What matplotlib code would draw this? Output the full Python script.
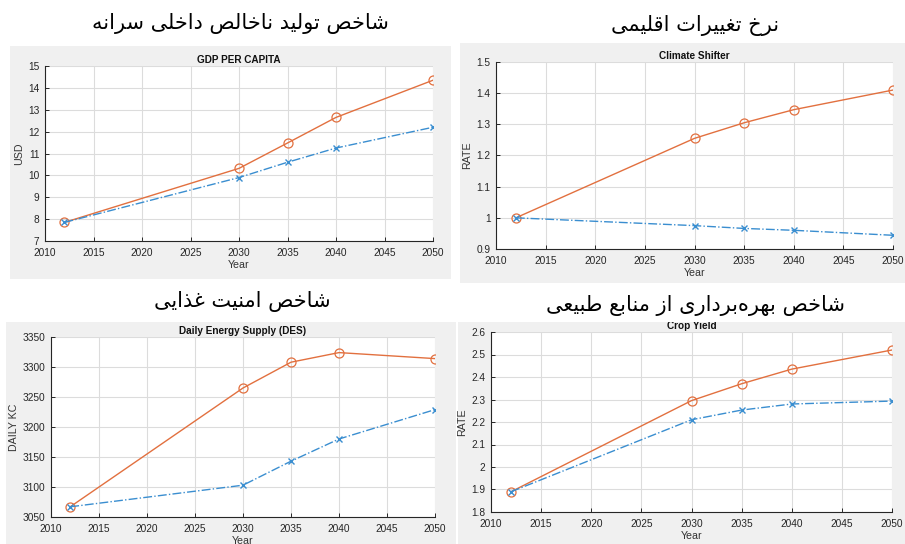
import matplotlib
matplotlib.use("Agg")
import matplotlib.pyplot as plt
from matplotlib.patches import Rectangle

# projection years and scenario values
years = [2012, 2030, 2035, 2040, 2050]

gdp_high = [7.85, 10.32, 11.48, 12.65, 14.35]
gdp_low = [7.85, 9.90, 10.60, 11.25, 12.20]

climate_high = [1.000, 1.255, 1.305, 1.347, 1.410]
climate_low = [1.000, 0.975, 0.966, 0.960, 0.944]

des_high = [3067, 3265, 3308, 3324, 3314]
des_low = [3067, 3103, 3143, 3180, 3229]

crop_high = [1.890, 2.295, 2.370, 2.435, 2.520]
crop_low = [1.890, 2.210, 2.253, 2.280, 2.293]

fa_titles = ["شاخص تولید ناخالص داخلی سرانه", "نرخ تغییرات اقلیمی",
             "شاخص امنیت غذایی", "شاخص بهره‌برداری از منابع طبیعی"]
en_titles = ["GDP PER CAPITA", "Climate Shifter",
             "Daily Energy Supply (DES)", "Crop Yield"]
y_labels = ["USD", "RATE", "DAILY KC", "RATE"]
y_limits = [(7, 15), (0.9, 1.5), (3050, 3350), (1.8, 2.6)]
y_steps = [1, 0.1, 50, 0.1]

# presentation forms: isolated, final, initial, medial
AR_FORMS = {
    'ا': ('\uFE8D', '\uFE8E'),
    'ب': ('\uFE8F', '\uFE90', '\uFE91', '\uFE92'),
    'ت': ('\uFE95', '\uFE96', '\uFE97', '\uFE98'),
    'خ': ('\uFEA5', '\uFEA6', '\uFEA7', '\uFEA8'),
    'د': ('\uFEA9', '\uFEAA'),
    'ذ': ('\uFEAB', '\uFEAC'),
    'ر': ('\uFEAD', '\uFEAE'),
    'ز': ('\uFEAF', '\uFEB0'),
    'س': ('\uFEB1', '\uFEB2', '\uFEB3', '\uFEB4'),
    'ش': ('\uFEB5', '\uFEB6', '\uFEB7', '\uFEB8'),
    'ص': ('\uFEB9', '\uFEBA', '\uFEBB', '\uFEBC'),
    'ط': ('\uFEC1', '\uFEC2', '\uFEC3', '\uFEC4'),
    'ع': ('\uFEC9', '\uFECA', '\uFECB', '\uFECC'),
    'غ': ('\uFECD', '\uFECE', '\uFECF', '\uFED0'),
    'ق': ('\uFED5', '\uFED6', '\uFED7', '\uFED8'),
    'ل': ('\uFEDD', '\uFEDE', '\uFEDF', '\uFEE0'),
    'م': ('\uFEE1', '\uFEE2', '\uFEE3', '\uFEE4'),
    'ن': ('\uFEE5', '\uFEE6', '\uFEE7', '\uFEE8'),
    'ه': ('\uFEE9', '\uFEEA', '\uFEEB', '\uFEEC'),
    'و': ('\uFEED', '\uFEEE'),
    'ی': ('\uFBFC', '\uFBFD', '\uFBFE', '\uFBFF'),
}


def shape_fa(text):
    """join persian letters and reverse them, matplotlib has no text shaping"""
    out = []
    for i, ch in enumerate(text):
        forms = AR_FORMS.get(ch)
        if forms is None:
            if ch != '\u200c':
                out.append(ch)
            continue
        prev = text[i - 1] if i > 0 else ''
        nxt = text[i + 1] if i + 1 < len(text) else ''
        join_prev = len(AR_FORMS.get(prev, ())) == 4
        join_next = len(forms) == 4 and nxt in AR_FORMS
        if join_prev and join_next:
            out.append(forms[3])
        elif join_prev:
            out.append(forms[1])
        elif join_next:
            out.append(forms[2])
        else:
            out.append(forms[0])
    return ''.join(reversed(out))


W, H = 905, 544
orange = "#E2703F"
blue = "#3A8ED0"
panel_bg = "#F0F0F0"

fig = plt.figure(figsize=(W / 100, H / 100), dpi=100)
fig.patch.set_facecolor("white")


def px_box(x0, y0, x1, y1):
    return [x0 / W, 1 - y1 / H, (x1 - x0) / W, (y1 - y0) / H]


# panel backgrounds (pixel boxes)
panels = [(10, 46, 451, 279), (460, 43, 905, 283), (6, 322, 456, 544), (458, 322, 905, 544)]
axes_boxes = [(45, 66, 433, 241), (496, 62, 893, 249), (51, 337, 435, 517), (491, 332, 892, 512)]
fa_pos = [(240, 23), (695, 25), (242, 302), (695, 305)]

for x0, y0, x1, y1 in panels:
    b = px_box(x0, y0, x1, y1)
    fig.patches.append(Rectangle((b[0], b[1]), b[2], b[3], transform=fig.transFigure,
                                 facecolor=panel_bg, edgecolor="none", zorder=-5))

series = [(gdp_high, gdp_low), (climate_high, climate_low),
          (des_high, des_low), (crop_high, crop_low)]

for i in range(4):
    ax = fig.add_axes(px_box(*axes_boxes[i]))
    high, low = series[i]
    ax.plot(years, high, color=orange, linestyle="-", linewidth=1.0,
            marker="o", markersize=6.5, markerfacecolor="none", markeredgewidth=0.9)
    ax.plot(years, low, color=blue, linestyle="-.", linewidth=1.0,
            marker="x", markersize=4.5, markeredgewidth=1.0)

    ax.set_xlim(2010, 2050)
    lo, hi = y_limits[i]
    ax.set_ylim(lo, hi)
    ax.set_xticks(range(2010, 2051, 5))
    n = int(round((hi - lo) / y_steps[i]))
    yt = [lo + k * y_steps[i] for k in range(n + 1)]
    ax.set_yticks(yt)
    if y_steps[i] < 1:
        ax.set_yticklabels(["%g" % round(v, 1) for v in yt])
    else:
        ax.set_yticklabels(["%d" % v for v in yt])

    ax.grid(True, color="#DCDCDC", linewidth=0.8)
    ax.set_axisbelow(True)
    for side in ["top", "right"]:
        ax.spines[side].set_visible(False)
    for side in ["left", "bottom"]:
        ax.spines[side].set_color("#262626")
        ax.spines[side].set_linewidth(0.8)
    ax.tick_params(direction="in", length=3, width=0.7, color="#262626",
                   labelsize=7.3, labelcolor="#262626")
    ax.tick_params(axis="x", pad=5)
    ax.tick_params(axis="y", pad=4)
    for lab in ax.get_xticklabels() + ax.get_yticklabels():
        lab.set_fontfamily("Liberation Sans")

    ax.set_title(en_titles[i], fontsize=7.2, fontweight="bold",
                 fontfamily="Liberation Sans", color="#111111", pad=2.5)
    ax.set_xlabel("Year", fontsize=7.7, fontfamily="Liberation Sans",
                  color="#333333", labelpad=1.5)
    ax.set_ylabel(y_labels[i], fontsize=7.7, fontfamily="Liberation Sans",
                  color="#333333", labelpad=3)

    cx, cy = fa_pos[i]
    fig.text(cx / W, 1 - cy / H, shape_fa(fa_titles[i]), ha="center", va="center",
             fontsize=15, fontfamily="DejaVu Sans", color="black")

# white strip above the lower right panel cuts the top of its title
b = px_box(458, 300, 905, 322)
fig.patches.append(Rectangle((b[0], b[1]), b[2], b[3], transform=fig.transFigure,
                             facecolor="white", edgecolor="none", zorder=5))
# the persian title there has to stay on top of the strip
fig.texts[-1].set_zorder(6)

fig.savefig("out.png", dpi=100)
